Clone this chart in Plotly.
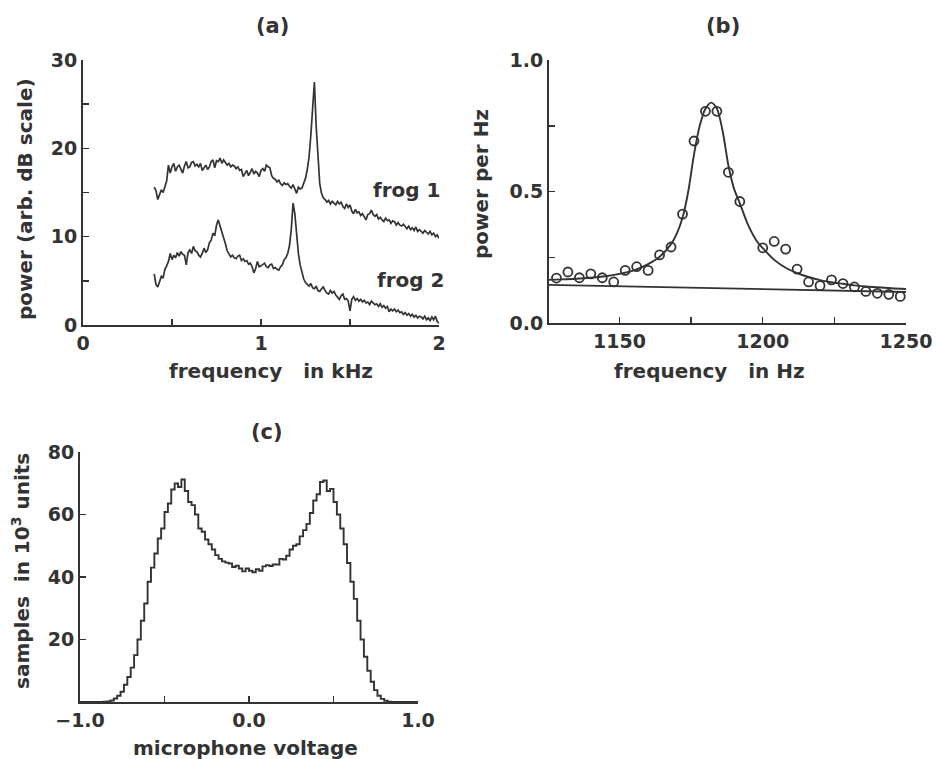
import numpy as np
import plotly.graph_objects as go

# ---------------- data: panel (a) ----------------
freq_khz = np.round(np.arange(0.40, 2.0001, 0.01), 2)
frog1 = [
    15.6, 15.2, 14.2, 14.9, 15.3, 15.0, 15.7, 16.3, 18.1, 17.2,
    17.9, 18.3, 17.4, 17.9, 18.1, 17.6, 17.2, 18.0, 18.5, 17.8,
    17.9, 18.4, 18.5, 18.0, 18.2, 17.9, 18.3, 17.5, 17.8, 18.1,
    17.6, 17.9, 18.5, 18.7, 17.8, 18.6, 18.5, 18.9, 18.3, 18.7,
    18.4, 18.1, 18.3, 17.9, 18.1, 18.0, 17.7, 17.9, 17.5, 17.6,
    16.8, 17.1, 17.5, 16.9, 17.3, 17.7, 17.1, 17.4, 17.2, 16.8,
    17.5, 17.7, 17.4, 18.1, 17.9, 17.8, 16.9, 16.6, 16.5, 16.2,
    16.4, 16.0, 15.8, 16.1, 15.9, 16.0, 15.7, 15.5, 15.9, 15.3,
    14.9, 15.6, 15.4, 15.5, 16.0, 16.6, 17.6, 19.0, 21.5, 25.0,
    27.5, 22.5, 18.7, 16.0, 14.9, 14.4, 14.2, 13.9, 14.1, 13.7,
    14.0, 13.8, 13.6, 14.0, 13.7, 13.9, 13.4, 13.2, 13.7, 13.3,
    13.6, 12.9, 12.6, 13.1, 12.7, 12.8, 12.4, 12.6, 12.2, 11.9,
    12.5, 12.6, 13.0, 12.5, 12.3, 12.5, 12.0, 12.2, 11.9, 11.7,
    12.1, 11.8, 11.9, 11.5, 11.8, 11.7, 11.3, 11.6, 11.3, 11.2,
    11.4, 11.1, 10.9, 11.2, 10.8, 11.0, 10.7, 11.1, 10.6, 10.8,
    10.6, 10.4, 10.7, 10.5, 10.3, 10.6, 10.2, 10.4, 10.0, 10.2,
    9.8,
]
frog2 = [
    5.8, 4.6, 4.3, 5.0, 5.5, 5.3, 6.3, 6.7, 7.2, 8.1,
    7.4, 7.9, 7.6, 8.2, 7.8, 8.3, 8.0, 7.9, 6.8, 8.2,
    8.5, 8.1, 8.9, 8.4, 8.3, 7.9, 7.7, 8.1, 8.7, 8.2,
    8.5, 9.3, 9.6, 10.4, 10.1, 11.3, 11.9, 11.2, 10.6, 9.8,
    9.2, 8.4, 8.1, 7.7, 7.9, 7.6, 7.5, 7.8, 7.9, 7.3,
    7.5, 7.2, 7.3, 6.9, 7.0, 6.6, 5.9, 6.4, 7.2, 6.6,
    6.7, 6.9, 7.0, 6.6, 6.5, 6.8, 6.9, 6.4, 6.5, 6.3,
    6.2, 6.6, 6.8, 7.4, 7.6, 8.1, 9.0, 10.8, 13.8, 12.6,
    10.2, 8.1, 6.8, 5.9, 5.2, 4.8, 4.6, 4.4, 4.7, 4.2,
    4.1, 4.4, 3.9, 3.8, 4.1, 4.3, 3.9, 3.6, 3.5, 3.9,
    3.6, 3.8, 3.4, 3.2, 2.9, 3.3, 3.5, 2.9, 3.0, 2.7,
    1.6, 2.9, 3.2, 2.8, 3.0, 2.7, 2.9, 2.6, 2.8, 2.5,
    2.6, 2.3, 2.7, 2.5, 2.3, 2.4, 2.1, 2.4, 2.0, 2.2,
    1.9, 2.1, 1.5, 1.8, 1.6, 1.8, 1.5, 1.7, 1.4, 1.5,
    1.2, 1.4, 1.1, 1.3, 1.0, 1.2, 0.9, 1.1, 0.8, 1.0,
    0.9, 0.7, 1.0, 0.6, 0.8, 0.5, 0.9, 0.6, 1.0, 0.4,
    0.2,
]

# ---------------- data: panel (b) ----------------
pts_freq = [1128, 1132, 1136, 1140, 1144, 1148, 1152, 1156, 1160, 1164,
            1168, 1172, 1176, 1180, 1184, 1188, 1192, 1200, 1204, 1208,
            1212, 1216, 1220, 1224, 1228, 1232, 1236, 1240, 1244, 1248]
pts_power = [0.171, 0.194, 0.172, 0.187, 0.172, 0.156, 0.200, 0.214, 0.200, 0.259,
             0.289, 0.414, 0.692, 0.805, 0.805, 0.573, 0.462, 0.286, 0.310, 0.281,
             0.205, 0.156, 0.142, 0.164, 0.150, 0.137, 0.120, 0.113, 0.109, 0.101]
fit_freq = [1125.4, 1130, 1135, 1140, 1145, 1150, 1155, 1160, 1164, 1168,
            1170, 1172, 1174, 1176, 1178, 1180, 1182, 1184, 1186, 1188,
            1190, 1192, 1195, 1198, 1200, 1204, 1208, 1212, 1216, 1220,
            1224, 1228, 1232, 1236, 1240, 1245, 1250]
fit_power = [0.164, 0.166, 0.168, 0.172, 0.178, 0.187, 0.200, 0.224, 0.252, 0.300,
             0.340, 0.400, 0.500, 0.640, 0.750, 0.815, 0.838, 0.815, 0.730, 0.600,
             0.510, 0.455, 0.370, 0.310, 0.285, 0.240, 0.210, 0.190, 0.175, 0.163,
             0.155, 0.149, 0.143, 0.139, 0.136, 0.132, 0.129]
base_freq = [1125.4, 1250]
base_power = [0.145, 0.118]

# ---------------- data: panel (c) ----------------
bin_left = np.round(np.arange(-1.00, 0.9801, 0.02), 2)
counts_k = [
    0, 0, 0, 0, 0, 0, 0, 0.1, 0.2, 0.5,
    1.1, 2.0, 3.3, 5.5, 8.0, 11.0, 15.0, 20.0, 26.0, 31.5,
    38.5, 43.0, 47.5, 52.3, 55.5, 60.8, 63.5, 68.0, 69.9, 68.8,
    71.2, 67.5, 64.0, 63.0, 60.0, 55.5, 54.5, 52.0, 50.5, 48.8,
    47.0, 45.8, 45.0, 44.6, 44.3, 43.2, 43.6, 42.7, 41.8, 42.7,
    42.0, 41.5, 42.5, 42.0, 43.4, 43.8, 43.5, 44.0, 44.0, 45.8,
    45.6, 46.8, 48.8, 50.0, 50.5, 53.0, 55.0, 57.0, 60.5, 64.5,
    66.5, 70.4, 70.9, 67.5, 68.2, 64.0, 60.0, 55.5, 50.5, 44.5,
    38.5, 33.0, 26.0, 20.0, 14.5, 10.0, 6.5, 3.8, 2.0, 1.0,
    0.4, 0.1, 0, 0, 0, 0, 0, 0, 0, 0,
]

# ---------------- styling ----------------
INK = "#333333"
FONT = "DejaVu Sans"
W, H = 937, 759


def px_x(p):
    return p / W


def px_y(p):
    return 1 - p / H


fig = go.Figure()

fig.add_trace(go.Scatter(x=freq_khz, y=frog1, mode="lines",
                         line=dict(color=INK, width=1.7), xaxis="x", yaxis="y"))
fig.add_trace(go.Scatter(x=freq_khz, y=frog2, mode="lines",
                         line=dict(color=INK, width=1.7), xaxis="x", yaxis="y"))

fig.add_trace(go.Scatter(x=fit_freq, y=fit_power, mode="lines",
                         line=dict(color=INK, width=1.9, shape="spline", smoothing=0.8),
                         xaxis="x2", yaxis="y2"))
fig.add_trace(go.Scatter(x=base_freq, y=base_power, mode="lines",
                         line=dict(color=INK, width=1.9), xaxis="x2", yaxis="y2"))
fig.add_trace(go.Scatter(x=pts_freq, y=pts_power, mode="markers",
                         marker=dict(symbol="circle-open", size=9, color=INK,
                                     line=dict(color=INK, width=1.8)),
                         xaxis="x2", yaxis="y2"))

hx = list(bin_left) + [1.0]
hy = list(counts_k) + [counts_k[-1]]
fig.add_trace(go.Scatter(x=hx, y=hy, mode="lines",
                         line=dict(color=INK, width=1.9, shape="hv"),
                         xaxis="x3", yaxis="y3"))

tickfont = dict(family=FONT, size=19, color=INK, weight="bold")
minor_style = dict(ticks="inside", ticklen=6, tickcolor=INK, tickwidth=1.5)
common = dict(showline=True, linecolor=INK, linewidth=2, showgrid=False,
              zeroline=False, ticks="inside", ticklen=6, tickwidth=1.5,
              tickcolor=INK, tickfont=tickfont, fixedrange=True, automargin=False)

fig.update_layout(
    template="none",
    width=W, height=H,
    margin=dict(l=0, r=0, t=0, b=0, pad=0),
    paper_bgcolor="white", plot_bgcolor="white",
    showlegend=False,
    xaxis=dict(domain=[px_x(83), px_x(439)], range=[0, 2], anchor="y",
               tickvals=[0, 1, 2], ticktext=["0", "1", "2"],
               minor=dict(dtick=0.5, **minor_style), **common),
    yaxis=dict(domain=[px_y(325), px_y(60)], range=[0, 30], anchor="x",
               tickvals=[0, 10, 20, 30],
               minor=dict(dtick=5, **minor_style), **common),
    xaxis2=dict(domain=[px_x(549), px_x(906)], range=[1125.4, 1250], anchor="y2",
                tickvals=[1150, 1200, 1250],
                minor=dict(dtick=25, **minor_style), **common),
    yaxis2=dict(domain=[px_y(323), px_y(60)], range=[0, 1], anchor="x2",
                tickvals=[0, 0.5, 1.0], ticktext=["0.0", "0.5", "1.0"],
                minor=dict(dtick=0.25, **minor_style), **common),
    xaxis3=dict(domain=[px_x(80), px_x(418)], range=[-1, 1], anchor="y3",
                tickvals=[-1, 0, 1], ticktext=["\u22121.0", "0.0", "1.0"],
                minor=dict(dtick=0.5, **minor_style), **common),
    yaxis3=dict(domain=[px_y(702), px_y(452)], range=[0, 80], anchor="x3",
                tickvals=[20, 40, 60, 80], **common),
)

lab = dict(family=FONT, size=20, color=INK, weight="bold")
bold = dict(family=FONT, size=21, color=INK, weight="bold")


def note(text, x, y, font, angle=0):
    fig.add_annotation(text=text, x=px_x(x), y=px_y(y), xref="paper", yref="paper",
                       showarrow=False, font=font, textangle=angle,
                       xanchor="center", yanchor="middle")


note("(a)", 272, 26, bold)
note("(b)", 723, 26, bold)
note("(c)", 267, 432, bold)
note("frequency\u00a0\u00a0\u00a0in kHz", 271, 371, lab)
note("frequency\u00a0\u00a0\u00a0in Hz", 709, 371, lab)
note("microphone voltage", 246, 748, lab)
note("power (arb. dB scale)", 25, 199, lab, -90)
note("power per Hz", 481, 184, lab, -90)
note("samples\u00a0\u00a0in 10<sup>3</sup> units", 21, 571, lab, -90)
note("frog 1", 407, 190, lab)
note("frog 2", 411, 280, lab)

fig.write_html(
    "out.html",
    config={"displayModeBar": False, "staticPlot": True},
    post_script="document.body.style.margin='0px';document.body.style.overflow='hidden';",
)
